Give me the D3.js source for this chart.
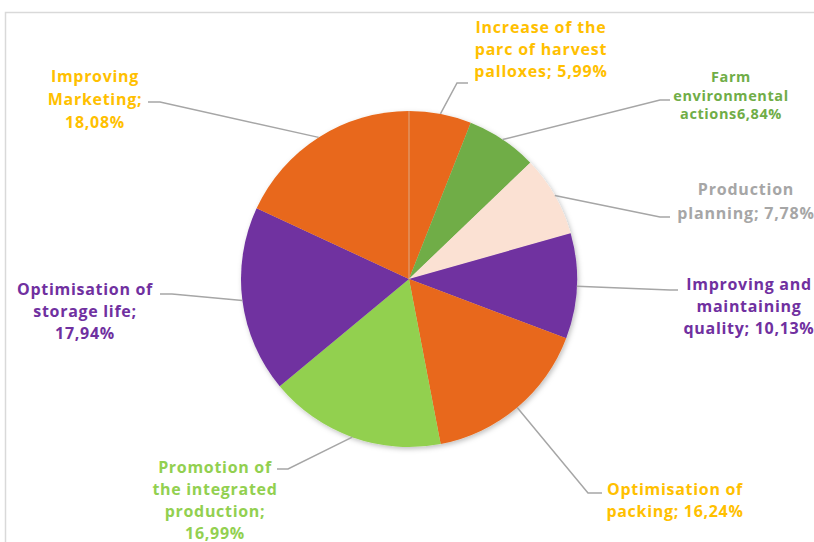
<!DOCTYPE html>
<html>
<head>
<meta charset="utf-8">
<script src="https://cdn.jsdelivr.net/npm/d3@7"></script>
<style>
  html, body { margin: 0; padding: 0; background: #ffffff; }
  svg { display: block; }
  text { font-family: "Open Sans", "Lato", sans-serif; font-weight: 700; }
</style>
</head>
<body>
<svg id="chart" width="814" height="542"></svg>
<script>
// Measures, clockwise from 12 o'clock
const categories = [
  "Increase of the parc of harvest palloxes",
  "Farm environmental actions",
  "Production planning",
  "Improving and maintaining quality",
  "Optimisation of packing",
  "Promotion of the integrated production",
  "Optimisation of storage life",
  "Improving Marketing"
];
const values = [5.99, 6.84, 7.78, 10.13, 16.24, 16.99, 17.94, 18.08];

// Label text as drawn; {v} is replaced by the formatted share
const labelLines = [
  ["Increase of the", "parc of harvest", "palloxes; {v}"],
  ["Farm", "environmental", "actions{v}"],
  ["Production", "planning; {v}"],
  ["Improving and", "maintaining", "quality; {v}"],
  ["Optimisation of", "packing; {v}"],
  ["Promotion of", "the integrated", "production;", "{v}"],
  ["Optimisation of", "storage life;", "{v}"],
  ["Improving", "Marketing;", "{v}"]
];

const sliceColors = ["#E8681A", "#70AD47", "#FBE1D3", "#7030A0", "#E8681A", "#92D050", "#7030A0", "#E8681A"];
const labelColors = ["#FFC000", "#70AD47", "#A6A6A6", "#7030A0", "#FFC000", "#92D050", "#7030A0", "#FFC000"];

// Label placement: text centre x, first baseline, line step, font size, tracking, leader elbow & end
const placement = [
  { x: 541, y: 33,  step: 22,   size: 16,   ls: 0.8, elbow: [457, 83],  end: [468, 83] },
  { x: 731, y: 82,  step: 18.5, size: 14.5, ls: 0.6, elbow: [660, 100], end: [670, 100] },
  { x: 746, y: 195, step: 24,   size: 16,   ls: 0.8, elbow: [660, 217], end: [670, 217] },
  { x: 749, y: 290, step: 22,   size: 16,   ls: 0.7, elbow: [670, 290], end: [678, 290] },
  { x: 675, y: 495, step: 22,   size: 16,   ls: 0.7, elbow: [588, 493], end: [602, 493] },
  { x: 215, y: 473, step: 22,   size: 16,   ls: 0.7, elbow: [288, 469], end: [277, 469] },
  { x: 85,  y: 295, step: 22,   size: 16,   ls: 0.7, elbow: [172, 294], end: [160, 294] },
  { x: 95,  y: 82,  step: 23,   size: 16,   ls: 0.7, elbow: [160, 102], end: [148, 102] }
];

const fmt = v => d3.format(".2f")(v).replace(".", ",") + "%";

const svg = d3.select("#chart");
const cx = 409, cy = 279, R = 168;

// Outer frame
svg.append("rect")
  .attr("x", 5.5).attr("y", 12.5)
  .attr("width", 1000).attr("height", 1000)
  .attr("fill", "none")
  .attr("stroke", "#D9D9D9")
  .attr("stroke-width", 1.5);

const defs = svg.append("defs");
const shadow = defs.append("filter").attr("id", "pieShadow")
  .attr("x", "-20%").attr("y", "-20%").attr("width", "140%").attr("height", "140%");
shadow.append("feDropShadow")
  .attr("dx", 1.5).attr("dy", 2).attr("stdDeviation", 2.5)
  .attr("flood-color", "#000").attr("flood-opacity", 0.25);

const data = categories.map((c, i) => ({ name: c, value: values[i], i }));
const pie = d3.pie().value(d => d.value).sort(null);
const arcs = pie(data);
const arc = d3.arc().innerRadius(0).outerRadius(R);

const g = svg.append("g").attr("transform", `translate(${cx},${cy})`);
const slices = g.append("g").attr("filter", "url(#pieShadow)");
slices.selectAll("path")
  .data(arcs)
  .join("path")
  .attr("d", arc)
  .attr("fill", d => sliceColors[d.data.i]);

// faint seam where the first and last slices meet
g.append("line")
  .attr("x1", 0).attr("y1", 0).attr("x2", 0).attr("y2", -R)
  .attr("stroke", "#D8B8A0").attr("stroke-width", 1).attr("opacity", 0.8);

// Leader lines from slice mid-angle on the rim
const leaders = svg.append("g");
arcs.forEach(d => {
  const a = (d.startAngle + d.endAngle) / 2;
  const p0 = [cx + R * Math.sin(a), cy - R * Math.cos(a)];
  const pl = placement[d.data.i];
  leaders.append("polyline")
    .attr("points", [p0, pl.elbow, pl.end].map(p => p.join(",")).join(" "))
    .attr("fill", "none")
    .attr("stroke", "#A6A6A6")
    .attr("stroke-width", 1.5);
});

// Labels
const labels = svg.append("g");
arcs.forEach(d => {
  const i = d.data.i;
  const pl = placement[i];
  const t = labels.append("text")
    .attr("text-anchor", "middle")
    .attr("fill", labelColors[i])
    .attr("font-size", pl.size)
    .attr("letter-spacing", pl.ls);
  labelLines[i].forEach((line, k) => {
    t.append("tspan")
      .attr("x", pl.x)
      .attr("y", pl.y + k * pl.step)
      .text(line.replace("{v}", fmt(d.data.value)));
  });
});
</script>
</body>
</html>
